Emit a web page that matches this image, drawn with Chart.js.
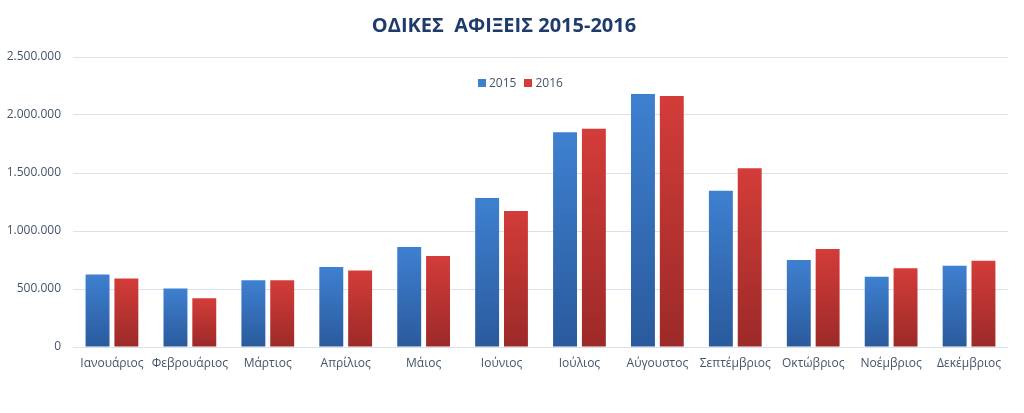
<!DOCTYPE html>
<html>
<head>
<meta charset="utf-8">
<script src="https://cdn.jsdelivr.net/npm/chart.js@4/dist/chart.umd.min.js"></script>
<style>
  html, body { margin: 0; padding: 0; background: #fff; }
  #wrap { position: relative; width: 1024px; height: 413px; }
  #legend { position: absolute; top: 74px; left: 478px; font: 12px "Open Sans", sans-serif; color: #44546a; white-space: nowrap; }
  #legend span.sw { display: inline-block; width: 8px; height: 8px; margin-right: 3px; vertical-align: 0px; }
  #legend span.it { margin-right: 8px; }
</style>
</head>
<body>
<div id="wrap">
  <canvas id="c" width="1024" height="413"></canvas>
  <div id="legend"></div>
</div>
<script>
// Οδικές αφίξεις ανά μήνα, 2015 vs 2016
const MONTHS = ['Ιανουάριος','Φεβρουάριος','Μάρτιος','Απρίλιος','Μάιος','Ιούνιος','Ιούλιος','Αύγουστος','Σεπτέμβριος','Οκτώβριος','Νοέμβριος','Δεκέμβριος'];
const Y2015 = [625000, 505000, 575000, 690000, 862000, 1284000, 1851000, 2181000, 1347000, 750000, 606000, 700000];
const Y2016 = [590000, 420000, 575000, 660000, 784000, 1172000, 1882000, 2164000, 1540000, 845000, 678000, 744000];
const SERIES = ['2015', '2016'];
const COLORS = [['#3e80d0', '#2a5a9c'], ['#d33c39', '#9c2a28']];

const fmt = v => v.toLocaleString('de-DE');

// per-bar vertical gradient, lighter at top
function barGrad(i) {
  return ctx => {
    const chart = ctx.chart;
    if (!chart.chartArea || ctx.parsed == null) return COLORS[i][0];
    const y = chart.scales.y;
    const top = y.getPixelForValue(ctx.parsed.y), base = y.getPixelForValue(0);
    if (!isFinite(top) || top === base) return COLORS[i][0];
    const g = chart.ctx.createLinearGradient(0, top, 0, base);
    g.addColorStop(0, COLORS[i][0]);
    g.addColorStop(1, COLORS[i][1]);
    return g;
  };
}

const legendEl = document.getElementById('legend');
legendEl.innerHTML = SERIES.map((s, i) =>
  `<span class="it"><span class="sw" style="background:${COLORS[i][0]}"></span>${s}</span>`).join('');

new Chart(document.getElementById('c'), {
  type: 'bar',
  data: {
    labels: MONTHS,
    datasets: [
      { label: SERIES[0], data: Y2015, backgroundColor: barGrad(0) },
      { label: SERIES[1], data: Y2016, backgroundColor: barGrad(1) },
    ]
  },
  options: {
    responsive: false,
    animation: false,
    categoryPercentage: 0.74,
    barPercentage: 0.83,
    layout: { padding: { left: 0, right: 16, top: 0, bottom: 0 } },
    plugins: {
      legend: { display: false },
      tooltip: { enabled: false },
      title: {
        display: true,
        text: 'ΟΔΙΚΕΣ  ΑΦΙΞΕΙΣ 2015-2016',
        color: '#1f3b6e',
        font: { family: '"Open Sans", sans-serif', size: 20, weight: 'bold' },
        padding: { top: 14, bottom: 19 }
      }
    },
    scales: {
      x: {
        grid: { display: false, drawTicks: false },
        border: { display: false },
        ticks: { color: '#44546a', font: { family: '"Open Sans", sans-serif', size: 12 }, padding: 9, maxRotation: 0, autoSkip: false },
        afterFit: s => { s.height = 66; }
      },
      y: {
        min: 0, max: 2500000,
        grid: { color: '#d9e1ee', lineWidth: 1, drawTicks: false },
        border: { display: false },
        ticks: { stepSize: 500000, color: '#44546a', font: { family: '"Open Sans", sans-serif', size: 12 }, padding: 12, callback: v => fmt(v) },
        afterFit: s => { s.width = 73; }
      }
    }
  }
});
</script>
</body>
</html>
